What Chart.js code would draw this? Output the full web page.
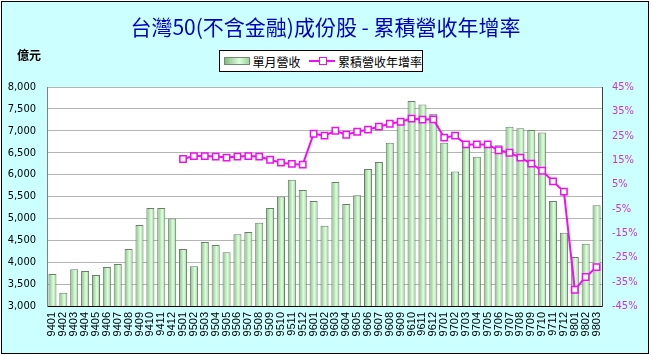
<!DOCTYPE html>
<html><head><meta charset="utf-8">
<script src="https://cdn.jsdelivr.net/npm/chart.js@4"></script>
<style>
html,body{margin:0;padding:0;background:#fff;width:651px;height:355px;overflow:hidden}
#frame{position:absolute;left:1px;top:1px;width:646px;height:351px;border:1px solid #000;background:#CCFFFF}
#c{position:absolute;left:0;top:0}
#unit{position:absolute;left:17px;top:48px;font:bold 12px "Noto Sans CJK TC";color:#000;line-height:14px}
#legend{position:absolute;left:219px;top:50px;width:202px;height:20px;border:1px solid #000;background:#fff;font:12px "Noto Sans CJK TC";color:#000;display:flex;align-items:center;white-space:nowrap}
.sw-bar{display:inline-block;width:25px;height:6px;border:1px solid #6E8B6E;background:linear-gradient(to right,#84BA84,#DDFFDD 60%,#9ED29E);margin:0 3px 0 4px}
.sw-line{display:inline-block;position:relative;width:28px;height:10px;margin:0 3px 0 8px}
.sw-line:before{content:"";position:absolute;left:0;right:0;top:4px;height:2px;background:#EE11EE}
.sw-line:after{content:"";position:absolute;left:10px;top:1px;width:6px;height:6px;border:1.5px solid #EE11EE;background:#fff}
</style></head>
<body>
<div id="frame"></div>
<canvas id="c" width="651" height="355"></canvas>
<div id="unit">億元</div>
<div id="legend"></div>
<script>
const titleText = '台灣50(不含金融)成份股 - 累積營收年增率';
const seriesNames = ['單月營收', '累積營收年增率'];
const categories = ['9401','9402','9403','9404','9405','9406','9407','9408','9409','9410','9411','9412',
'9501','9502','9503','9504','9505','9506','9507','9508','9509','9510','9511','9512',
'9601','9602','9603','9604','9605','9606','9607','9608','9609','9610','9611','9612',
'9701','9702','9703','9704','9705','9706','9707','9708','9709','9710','9711','9712',
'9801','9802','9803'];
const revenue = [3730,3300,3840,3800,3710,3890,3960,4300,4850,5240,5240,5000,
4300,3910,4460,4390,4230,4640,4690,4900,5240,5500,5880,5650,
5400,4830,5830,5330,5530,6130,6290,6730,7190,7680,7600,7390,
6730,6070,6700,6410,6670,6670,7090,7060,7020,6960,5400,4670,
4120,4420,5300];
const growth = [null,null,null,null,null,null,null,null,null,null,null,null,
15.4,16.6,16.6,16.4,16.0,16.4,16.6,16.4,15.1,13.9,13.4,13.1,
25.8,25.0,27.0,25.4,26.6,27.5,28.7,29.9,30.7,32.0,31.6,31.7,
24.2,25.0,21.4,21.4,21.4,19.0,18.0,16.0,13.5,10.6,6.2,2.0,
-38.3,-33.1,-29.0];
const leftMin = 3000, leftMax = 8000, leftStep = 500;
const rightMin = -45, rightMax = 45, rightStep = 10;

const BAR_PCT = 0.74;
const LINE_COLOR = '#EE11EE';

document.getElementById('legend').innerHTML =
  '<span class="sw-bar"></span><span>' + seriesNames[0] + '</span>' +
  '<span class="sw-line"></span><span>' + seriesNames[1] + '</span>';

function barFill(c) {
  const chart = c.chart;
  if (!chart.chartArea || c.type !== 'data' || !chart.scales.x) return '#B0E0B0';
  const xs = chart.scales.x;
  const cx = xs.getPixelForValue(c.dataIndex);
  const w = xs.width / categories.length * BAR_PCT;
  const g = chart.ctx.createLinearGradient(cx - w / 2, 0, cx + w / 2, 0);
  g.addColorStop(0, '#84BA84');
  g.addColorStop(0.6, '#DDFFDD');
  g.addColorStop(1, '#9ED29E');
  return g;
}

const plotBg = {
  id: 'plotBg',
  beforeDraw(chart) {
    const a = chart.chartArea, ctx = chart.ctx;
    ctx.save();
    ctx.fillStyle = '#fff';
    ctx.fillRect(a.left, a.top, a.right - a.left, a.bottom - a.top);
    ctx.restore();
  }
};

const tickFont = { family: '"DejaVu Sans Condensed","Liberation Sans"', size: 11 };

new Chart(document.getElementById('c'), {
  data: {
    labels: categories,
    datasets: [
      {
        type: 'line', label: seriesNames[1], data: growth, yAxisID: 'y1', order: 0,
        borderColor: LINE_COLOR, borderWidth: 2, backgroundColor: '#fff',
        pointStyle: 'rect', pointRadius: 4.5, pointBorderWidth: 1.5,
        pointBorderColor: LINE_COLOR, pointBackgroundColor: '#fff',
        spanGaps: false, tension: 0
      },
      {
        type: 'bar', label: seriesNames[0], data: revenue, yAxisID: 'y', order: 1,
        backgroundColor: barFill, borderColor: '#687F68', borderWidth: 1,
        categoryPercentage: 1, barPercentage: BAR_PCT
      }
    ]
  },
  options: {
    responsive: false, animation: false,
    layout: { padding: 0 },
    plugins: {
      legend: { display: false },
      tooltip: { enabled: false },
      title: {
        display: true, text: titleText, color: '#0000C0',
        font: { family: '"Noto Sans CJK TC"', size: 21, weight: 'normal', lineHeight: 1.2 },
        padding: { top: 14, bottom: 47.8 }
      }
    },
    scales: {
      x: {
        offset: true,
        grid: { display: false, drawTicks: false },
        border: { color: '#000', width: 1 },
        ticks: { minRotation: 90, maxRotation: 90, autoSkip: false, padding: 6,
                 color: '#000', font: { family: '"Liberation Sans"', size: 11, lineHeight: 1 } },
        afterFit(s) { s.height = 49; }
      },
      y: {
        position: 'left', min: leftMin, max: leftMax,
        grid: { color: '#B4B4B4', drawTicks: false },
        border: { color: '#808080', width: 1 },
        ticks: { stepSize: leftStep, padding: 11, color: '#000', font: tickFont,
                 callback: v => v.toLocaleString('en-US') },
        afterFit(s) { s.width = 47; }
      },
      y1: {
        position: 'right', min: rightMin, max: rightMax,
        grid: { display: false, drawTicks: false },
        border: { color: '#404040', width: 1 },
        ticks: { stepSize: rightStep, padding: 10, color: '#CC33CC', font: tickFont,
                 callback: v => v + '%' },
        afterFit(s) { s.width = 49; }
      }
    }
  },
  plugins: [plotBg]
});
</script>
</body></html>
